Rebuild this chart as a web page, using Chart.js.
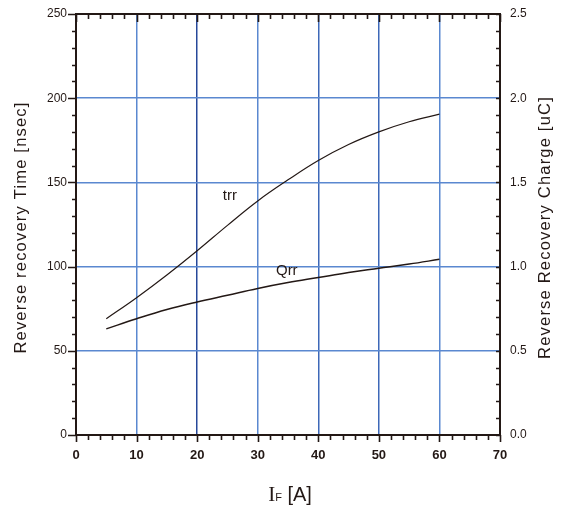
<!DOCTYPE html>
<html><head><meta charset="utf-8">
<script src="https://cdn.jsdelivr.net/npm/chart.js@4"></script>
<style>html,body{margin:0;padding:0;background:#fff}#wrap{width:564px;height:509px}</style>
</head><body><div id="wrap"><canvas id="c" width="564" height="509"></canvas></div>
<script>
const currentA = [5, 10, 15, 20, 25, 30, 35, 40, 45, 50, 55, 60];
const trrNs = [69, 81.5, 95, 109.4, 124.5, 139, 151.5, 163, 172.5, 180, 186, 190.5];
const qrrUc = [0.63, 0.69, 0.745, 0.79, 0.83, 0.87, 0.905, 0.935, 0.965, 0.99, 1.015, 1.043];
const xTicks = [0, 10, 20, 30, 40, 50, 60, 70];
const yLeftTicks = [0, 50, 100, 150, 200, 250];
const yRightTicks = [0.0, 0.5, 1.0, 1.5, 2.0, 2.5];
const labels = [{text: 'trr', x: 25.4, y: 142}, {text: 'Qrr', x: 34.8, y: 97.5}];

const FONT = "'Liberation Sans', Arial, sans-serif";
const AX = '#231815';

const overlay = {
  id: 'overlay',
  afterDraw(chart) {
    const ctx = chart.ctx, a = chart.chartArea;
    const x = chart.scales.x, yl = chart.scales.y, yr = chart.scales.y2;
    ctx.save();
    ctx.strokeStyle = AX; ctx.lineWidth = 1.6;
    ctx.beginPath();
    for (let v = 0; v <= 70; v += 2) {
      const px = Math.round(x.getPixelForValue(v)) + 0.5;
      const major = v % 10 === 0;
      ctx.moveTo(px, a.bottom); ctx.lineTo(px, a.bottom + (major ? 7 : 5));
      ctx.moveTo(px, a.top); ctx.lineTo(px, a.top + (major ? 8 : 5));
    }
    for (let v = 0; v <= 250; v += 10) {
      const py = Math.round(yl.getPixelForValue(v)) + 0.5;
      const major = v % 50 === 0;
      ctx.moveTo(a.left, py); ctx.lineTo(a.left - (major ? 8 : 4), py);
    }
    for (let i = 0; i <= 25; i++) {
      const py = Math.round(yr.getPixelForValue(i / 10)) + 0.5;
      ctx.moveTo(a.right, py); ctx.lineTo(a.right - 4, py);
    }
    ctx.stroke();
    ctx.lineWidth = 2;
    ctx.strokeRect(a.left, a.top, a.right - a.left, a.bottom - a.top);
    ctx.fillStyle = '#231815';
    ctx.font = '15px ' + FONT;
    ctx.textAlign = 'center'; ctx.textBaseline = 'middle';
    for (const l of labels) ctx.fillText(l.text, x.getPixelForValue(l.x), yl.getPixelForValue(l.y));
    ctx.font = '16.5px ' + FONT;
    if ('letterSpacing' in ctx) ctx.letterSpacing = '1.2px';
    ctx.save(); ctx.translate(21, (a.top + a.bottom) / 2 + 3); ctx.rotate(-Math.PI / 2);
    ctx.fillText('Reverse recovery Time [nsec]', 0, 0); ctx.restore();
    ctx.save(); ctx.translate(545, (a.top + a.bottom) / 2 + 3); ctx.rotate(-Math.PI / 2);
    ctx.fillText('Reverse Recovery Charge [uC]', 0, 0); ctx.restore();
    if ('letterSpacing' in ctx) ctx.letterSpacing = '0px';
    ctx.textAlign = 'left'; ctx.textBaseline = 'alphabetic';
    const by = 501;
    ctx.font = "21px 'Liberation Serif', serif";
    const wI = ctx.measureText('I').width;
    ctx.font = '11px ' + FONT;
    const wF = ctx.measureText('F').width;
    ctx.font = '20px ' + FONT;
    const wA = ctx.measureText(' [A]').width;
    let sx = 290 - (wI + wF + wA) / 2;
    ctx.font = "21px 'Liberation Serif', serif"; ctx.fillText('I', sx, by); sx += wI;
    ctx.font = '11px ' + FONT; ctx.fillText('F', sx, by); sx += wF;
    ctx.font = '20px ' + FONT; ctx.fillText(' [A]', sx, by);
    ctx.restore();
  }
};

function gridColX(ctx) {
  const v = ctx.tick && ctx.tick.value;
  if (v === 0 || v === 70) return 'rgba(0,0,0,0)';
  if (v === 20) return '#26489a';
  if (v === 40 || v === 50) return '#3d68b8';
  return '#5a88d0';
}
function fitY(w) { return s => { s.width = w; s.paddingTop = 0; s.paddingBottom = 0; }; }

new Chart(document.getElementById('c'), {
  type: 'line',
  data: {
    datasets: [
      { label: 'trr', data: currentA.map((v, i) => ({x: v, y: trrNs[i]})), yAxisID: 'y',
        borderColor: '#231815', borderWidth: 1.2, pointRadius: 0, tension: 0.4, fill: false },
      { label: 'Qrr', data: currentA.map((v, i) => ({x: v, y: qrrUc[i]})), yAxisID: 'y2',
        borderColor: '#231815', borderWidth: 1.5, pointRadius: 0, tension: 0.4, fill: false }
    ]
  },
  options: {
    responsive: false, animation: false,
    layout: { padding: { top: 14, left: 0, right: 0, bottom: 0 } },
    plugins: { legend: { display: false }, tooltip: { enabled: false } },
    scales: {
      x: {
        type: 'linear', min: 0, max: 70,
        afterBuildTicks: s => { s.ticks = xTicks.map(v => ({value: v})); },
        afterFit: s => { s.height = 74; s.paddingLeft = 0; s.paddingRight = 0; },
        border: { display: false },
        grid: { color: gridColX, lineWidth: 1.5, drawTicks: false },
        ticks: { padding: 13, color: '#231815', font: { family: FONT, size: 13, weight: 'bold' }, maxRotation: 0 }
      },
      y: {
        type: 'linear', position: 'left', min: 0, max: 250,
        afterBuildTicks: s => { s.ticks = yLeftTicks.map(v => ({value: v})); },
        afterFit: fitY(76),
        border: { display: false },
        grid: { color: c => (c.tick.value === 0 || c.tick.value === 250) ? 'rgba(0,0,0,0)' : '#5a88d0', lineWidth: 1.5, drawTicks: false },
        ticks: { padding: 9, color: '#231815', font: { family: FONT, size: 12 } }
      },
      y2: {
        type: 'linear', position: 'right', min: 0, max: 2.5,
        afterBuildTicks: s => { s.ticks = yRightTicks.map(v => ({value: v})); },
        afterFit: fitY(64),
        border: { display: false },
        grid: { display: false, drawTicks: false },
        ticks: { padding: 10, color: '#231815', font: { family: FONT, size: 12 }, callback: v => v.toFixed(1) }
      }
    }
  },
  plugins: [overlay]
});
</script></body></html>
